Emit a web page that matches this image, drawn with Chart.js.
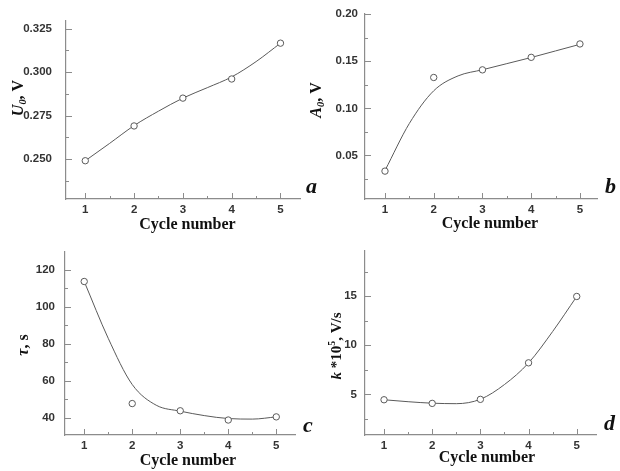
<!DOCTYPE html>
<html><head><meta charset="utf-8">
<script src="https://cdn.jsdelivr.net/npm/chart.js@4.4.1/dist/chart.umd.min.js"></script>
<style>
html,body{margin:0;padding:0;background:#fff;}
#wrap{position:relative;width:620px;height:471px;overflow:hidden;}
canvas{position:absolute;}
</style></head>
<body><div id="wrap">
<canvas id="ca" width="310" height="235" style="left:0;top:0"></canvas>
<canvas id="cb" width="310" height="235" style="left:310px;top:0"></canvas>
<canvas id="cc" width="310" height="236" style="left:0;top:235px"></canvas>
<canvas id="cd" width="310" height="236" style="left:310px;top:235px"></canvas>
<canvas id="ov" width="620" height="471" style="left:0;top:0;pointer-events:none"></canvas>
</div>
<script>
// ---- data ----
const cycles = [1, 2, 3, 4, 5];
const fitX = [1, 1.5, 2, 2.5, 3, 3.5, 4, 4.5, 5];
const u0 = [0.249, 0.269, 0.285, 0.296, 0.3166];
const u0Fit = [0.249, 0.259, 0.2692, 0.2775, 0.285, 0.291, 0.2972, 0.306, 0.3166];
const a0 = [0.0334, 0.1328, 0.1409, 0.1542, 0.1684];
const a0Fit = [0.034, 0.084, 0.1187, 0.1345, 0.141, 0.1475, 0.154, 0.161, 0.168];
const tau = [113.7, 47.7, 43.8, 38.8, 40.5];
const tauFit = [113.7, 83, 58, 46.8, 43.6, 41.2, 39.6, 39.3, 40.5];
const kVals = [4.45, 4.08, 4.49, 8.21, 14.97];
const kFit = [4.45, 4.25, 4.1, 4.05, 4.5, 6.0, 8.2, 11.4, 14.97];
const xMajor = [1, 2, 3, 4, 5];
const xMinor = [1.5, 2.5, 3.5, 4.5];
const u0Major = [0.250, 0.275, 0.300, 0.325];
const u0Minor = [0.2375, 0.2625, 0.2875, 0.3125];
const a0Major = [0.05, 0.10, 0.15, 0.20];
const a0Minor = [0.025, 0.075, 0.125, 0.175];
const tauMajor = [40, 60, 80, 100, 120];
const tauMinor = [50, 70, 90, 110];
const kMajor = [5, 10, 15];
const kMinor = [2.5, 7.5, 12.5, 17.5];

const AXIS = '#8c8c8c';
const LINE = '#5a5a5a';
const TICKFONT = {family: '"Liberation Sans", Arial, sans-serif', size: 11.5, weight: 'bold'};

const tickPlugin = {
  id: 'inTicks',
  afterDraw(chart, args, opts) {
    const ctx = chart.ctx, xs = chart.scales.x, ys = chart.scales.y;
    const ca = chart.chartArea;
    ctx.save();
    ctx.strokeStyle = AXIS; ctx.lineWidth = 1;
    ctx.beginPath();
    const xt = (v, len) => { const p = Math.round(xs.getPixelForValue(v)) + 0.5; ctx.moveTo(p, ca.bottom); ctx.lineTo(p, ca.bottom - len); };
    const yt = (v, len) => { const p = Math.round(ys.getPixelForValue(v)) + 0.5; ctx.moveTo(ca.left, p); ctx.lineTo(ca.left + len, p); };
    opts.xMajor.forEach(v => xt(v, 6));
    opts.xMinor.forEach(v => xt(v, 3));
    opts.yMajor.forEach(v => yt(v, 6));
    opts.yMinor.forEach(v => yt(v, 3));
    ctx.stroke();
    ctx.restore();
  }
};

function makeChart(id, cfg) {
  const el = document.getElementById(id);
  const W = el.width, H = el.height;
  const pts = cycles.map((c, i) => ({x: c, y: cfg.vals[i]}));
  const fit = fitX.map((c, i) => ({x: c, y: cfg.fit[i]}));
  return new Chart(el, {
    type: 'scatter',
    data: {datasets: [
      {data: pts, showLine: false, pointRadius: 3.2, pointBorderWidth: 1, pointBorderColor: LINE, pointBackgroundColor: '#fff'},
      {data: fit, showLine: true, tension: 0.4, cubicInterpolationMode: 'monotone', borderColor: LINE, borderWidth: 1, pointRadius: 0, fill: false}
    ]},
    options: {
      responsive: false, animation: false, devicePixelRatio: 1,
      layout: {padding: {top: cfg.top, right: W - cfg.right, left: 0, bottom: 0}},
      plugins: {legend: {display: false}, tooltip: {enabled: false},
        inTicks: {xMajor, xMinor, yMajor: cfg.yMajor, yMinor: cfg.yMinor}},
      scales: {
        x: {type: 'linear', min: cfg.xmin, max: cfg.xmax,
          afterFit: s => { s.height = H - cfg.bottom; },
          afterBuildTicks: s => { s.ticks = xMajor.map(v => ({value: v})); },
          grid: {display: false, drawTicks: false},
          border: {color: AXIS, width: 1.2},
          ticks: {font: TICKFONT, color: '#333', padding: 4, callback: v => String(v)}},
        y: {type: 'linear', min: cfg.ymin, max: cfg.ymax,
          afterFit: s => { s.width = cfg.left; },
          afterBuildTicks: s => { s.ticks = cfg.yMajor.map(v => ({value: v})); },
          grid: {display: false, drawTicks: false},
          border: {color: AXIS, width: 1.2},
          ticks: {font: TICKFONT, color: '#333', padding: cfg.ypad, callback: v => v.toFixed(cfg.dec)}}
      }
    },
    plugins: [tickPlugin]
  });
}

makeChart('ca', {vals: u0, fit: u0Fit, left: 66, right: 300, top: 13, bottom: 199,
  xmin: 0.605, xmax: 5.40, ymin: 0.227, ymax: 0.3294, yMajor: u0Major, yMinor: u0Minor, dec: 3, ypad: 14});
makeChart('cb', {vals: a0, fit: a0Fit, left: 55, right: 287, top: 13, bottom: 199,
  xmin: 0.59, xmax: 5.35, ymin: 0.0038, ymax: 0.2003, yMajor: a0Major, yMinor: a0Minor, dec: 2, ypad: 7});
makeChart('cc', {vals: tau, fit: tauFit, left: 65, right: 295, top: 16, bottom: 200,
  xmin: 0.6, xmax: 5.39, ymin: 30.7, ymax: 129.7, yMajor: tauMajor, yMinor: tauMinor, dec: 0, ypad: 10});
makeChart('cd', {vals: kVals, fit: kFit, left: 55, right: 286, top: 16, bottom: 200,
  xmin: 0.605, xmax: 5.4, ymin: 0.86, ymax: 19.6, yMajor: kMajor, yMinor: kMinor, dec: 0, ypad: 8});

// ---- overlay texts ----
const ov = document.getElementById('ov').getContext('2d');
const SERIF = '"Liberation Serif", "Times New Roman", serif';
ov.fillStyle = '#111';
function rich(segs, size) {
  let w = 0;
  segs.forEach(s => {
    const sz = s.sub || s.sup ? size * 0.65 : size;
    ov.font = (s.it ? 'italic ' : '') + 'bold ' + sz + 'px ' + SERIF;
    w += ov.measureText(s.t).width;
  });
  return w;
}
function drawRich(segs, size, cx, cy, rot) {
  ov.save();
  ov.translate(cx, cy);
  if (rot) ov.rotate(-Math.PI / 2);
  const w = rich(segs, size);
  let x = -w / 2;
  ov.textBaseline = 'alphabetic';
  segs.forEach(s => {
    const sz = s.sub || s.sup ? size * 0.65 : size;
    ov.font = (s.it ? 'italic ' : '') + 'bold ' + sz + 'px ' + SERIF;
    const dy = s.sub ? size * 0.18 : (s.sup ? -size * 0.38 : 0);
    ov.fillText(s.t, x, size * 0.33 + dy);
    x += ov.measureText(s.t).width;
  });
  ov.restore();
}
const xTitle = 'Cycle number';
ov.font = 'bold 16px ' + SERIF; ov.textAlign = 'center';
ov.fillText(xTitle, 187.5, 229);
ov.fillText(xTitle, 490, 228);
ov.fillText(xTitle, 188, 465);
ov.fillText(xTitle, 487, 462);
ov.textAlign = 'left';
drawRich([{t: 'U', it: true}, {t: '0', it: true, sub: true}, {t: ', V'}], 16, 18, 98, true);
drawRich([{t: 'A', it: true}, {t: '0', it: true, sub: true}, {t: ', V'}], 16, 316, 100, true);
drawRich([{t: 'τ', it: true}, {t: ', s'}], 16, 22.5, 345, true);
drawRich([{t: 'k', it: true}, {t: ' *10'}, {t: '5', sup: true}, {t: ', V/s'}], 15, 336, 346, true);
ov.font = 'italic bold 22px ' + SERIF;
ov.fillText('a', 306, 192.5);
ov.fillText('b', 605, 193);
ov.fillText('c', 303, 432);
ov.fillText('d', 604, 430);
</script>
</body></html>
